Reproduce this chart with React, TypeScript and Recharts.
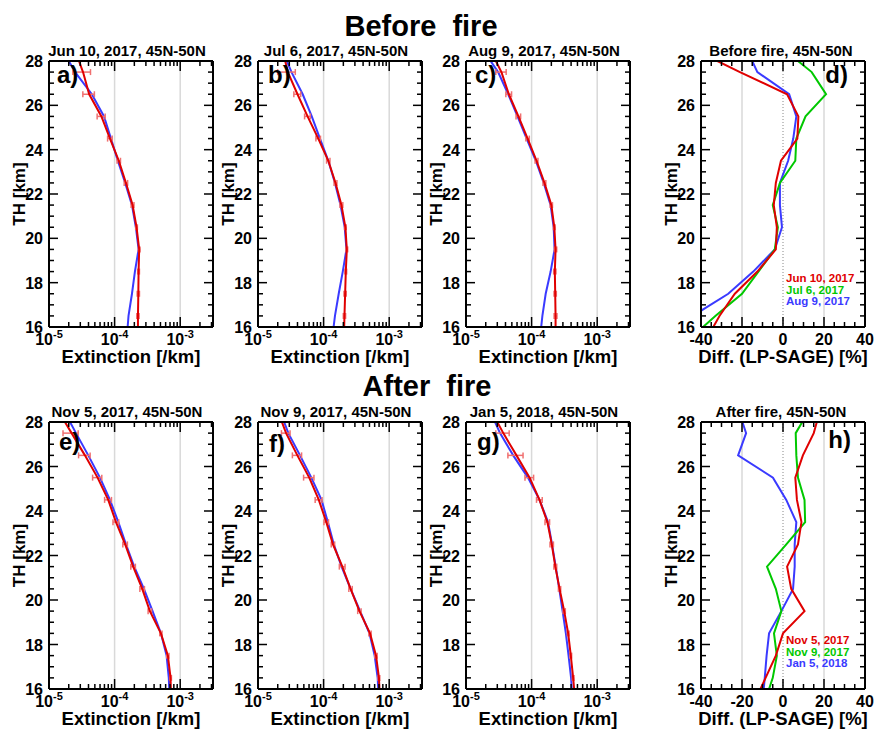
import React from 'react';
import { LineChart, Line, XAxis, YAxis, ReferenceLine, ErrorBar } from 'recharts';

const FONT = '"Liberation Sans", Arial, Helvetica, sans-serif';
const RED = '#e00000';
const BLUE = '#3a3aff';
const GREEN = '#00c800';

// altitude levels (km)
const altitudes = [16, 16.5, 17.5, 18.5, 19.5, 20.5, 21.5, 22.5, 23.5, 24.5, 25.5, 26.5, 27.5, 28];

// a) Jun 10, 2017
const lpJun10 = [2.27e-4, 2.27e-4, 2.3e-4, 2.32e-4, 2.37e-4, 2.16e-4, 1.88e-4, 1.49e-4, 1.16e-4, 8.5e-5, 6.3e-5, 4.1e-5, 3.3e-5, 2.86e-5];
const sageJun10 = [1.58e-4, 1.63e-4, 1.84e-4, 2.04e-4, 2.32e-4, 2.11e-4, 1.84e-4, 1.45e-4, 1.12e-4, 8.8e-5, 6.9e-5, 4.5e-5, 2.5e-5, 2.0e-5];
const errJun10 = [0, 0.04, 0.04, 0.03, 0.03, 0.03, 0.05, 0.06, 0.06, 0.08, 0.14, 0.2, 0.3, 0];

// b) Jul 6, 2017
const lpJul6 = [2.06e-4, 2.08e-4, 2.13e-4, 2.18e-4, 2.26e-4, 2.15e-4, 1.87e-4, 1.52e-4, 1.18e-4, 8.3e-5, 5.7e-5, 4.0e-5, 2.85e-5, 2.6e-5];
const sageJul6 = [1.42e-4, 1.49e-4, 1.7e-4, 1.96e-4, 2.23e-4, 2.1e-4, 1.81e-4, 1.49e-4, 1.18e-4, 8.8e-5, 6.6e-5, 4.8e-5, 3.24e-5, 2.75e-5];
const errJul6 = [0, 0.04, 0.04, 0.03, 0.03, 0.03, 0.05, 0.05, 0.06, 0.08, 0.1, 0.12, 0.3, 0];

// c) Aug 9, 2017
const lpAug9 = [2.32e-4, 2.32e-4, 2.29e-4, 2.26e-4, 2.32e-4, 2.22e-4, 2.0e-4, 1.57e-4, 1.19e-4, 8.7e-5, 6.3e-5, 4.5e-5, 3.47e-5, 2.85e-5];
const sageAug9 = [1.4e-4, 1.46e-4, 1.64e-4, 1.95e-4, 2.24e-4, 2.17e-4, 1.95e-4, 1.53e-4, 1.16e-4, 8.4e-5, 6.1e-5, 4.4e-5, 3.09e-5, 2.37e-5];
const errAug9 = [0, 0.05, 0.04, 0.04, 0.04, 0.03, 0.04, 0.05, 0.05, 0.06, 0.08, 0.1, 0.18, 0];

// e) Nov 5, 2017
const lpNov5 = [7.2e-4, 7.13e-4, 6.49e-4, 5.08e-4, 3.45e-4, 2.64e-4, 1.92e-4, 1.45e-4, 1.05e-4, 8.0e-5, 5.5e-5, 3.53e-5, 2.21e-5, 1.75e-5];
const sageNov5 = [6.8e-4, 6.7e-4, 6.2e-4, 5.08e-4, 3.79e-4, 2.8e-4, 1.99e-4, 1.49e-4, 1.14e-4, 8.5e-5, 5.98e-5, 3.97e-5, 2.58e-5, 2.09e-5];
const errNov5 = [0, 0.03, 0.04, 0.04, 0.06, 0.08, 0.08, 0.08, 0.1, 0.12, 0.16, 0.2, 0.26, 0];

// f) Nov 9, 2017
const lpNov9 = [7.1e-4, 6.98e-4, 6.3e-4, 5.1e-4, 3.52e-4, 2.58e-4, 1.93e-4, 1.39e-4, 1.1e-4, 8.45e-5, 6.04e-5, 3.98e-5, 2.68e-5, 2.31e-5];
const sageNov9 = [6.8e-4, 6.67e-4, 6.0e-4, 5.0e-4, 3.6e-4, 2.58e-4, 1.88e-4, 1.43e-4, 1.16e-4, 9.3e-5, 6.5e-5, 4.37e-5, 2.9e-5, 2.5e-5];
const errNov9 = [0, 0.03, 0.04, 0.04, 0.06, 0.06, 0.1, 0.06, 0.08, 0.12, 0.18, 0.16, 0.15, 0];

// g) Jan 5, 2018
const lpJan5 = [4.45e-4, 4.3e-4, 3.96e-4, 3.61e-4, 3.14e-4, 2.67e-4, 2.3e-4, 2.03e-4, 1.74e-4, 1.32e-4, 9.33e-5, 5.88e-5, 3.7e-5, 3.0e-5];
const sageJan5 = [4.1e-4, 4.0e-4, 3.66e-4, 3.33e-4, 2.97e-4, 2.64e-4, 2.33e-4, 2.05e-4, 1.78e-4, 1.32e-4, 8.8e-5, 5.24e-5, 3.3e-5, 2.77e-5];
const errJan5 = [0, 0.03, 0.03, 0.03, 0.04, 0.04, 0.05, 0.06, 0.08, 0.1, 0.15, 0.26, 0.23, 0];

// d) differences before fire (%)
const diffJun10 = [-34, -31, -23.5, -12.5, -3.5, -3, -4.5, -3.5, -1, 7, 7.5, 2, -21, -32];
const diffJul6 = [-39, -33, -20, -12, -4, -2.5, -5, -1.5, 6, 6.5, 11, 21, 14, 7.3];
const diffAug9 = [-53, -44, -26.7, -14.5, -4, -0.5, -1.5, -1.5, 2.5, 5, 6.5, 3, -12.5, -15];

// h) differences after fire (%)
const diffNov5 = [-11, -8.5, -3.5, 0, 10.5, 4, 2, 7.3, 9, 6.8, 6, 9.7, 15, 16.5];
const diffNov9 = [-6.8, -5, -3, -4.4, -0.8, -3.5, -7.8, 1.6, 10.8, 10.5, 7.3, 6.5, 6.2, 9.4];
const diffJan5 = [-9.4, -8.9, -8, -6.8, -0.8, 4.9, 5.7, 5.7, 6.5, 1.6, -4.9, -21.9, -18, -19.8];

// ticks
const altTicks = [16, 16.5, 17, 17.5, 18, 18.5, 19, 19.5, 20, 20.5, 21, 21.5, 22, 22.5, 23, 23.5, 24, 24.5, 25, 25.5, 26, 26.5, 27, 27.5, 28];
const altMajor = [16, 18, 20, 22, 24, 26, 28];
const extTicks = [1e-5, 2e-5, 3e-5, 4e-5, 5e-5, 6e-5, 7e-5, 8e-5, 9e-5, 1e-4, 2e-4, 3e-4, 4e-4, 5e-4, 6e-4, 7e-4, 8e-4, 9e-4, 1e-3, 2e-3, 3e-3];
const extMajor = [1e-5, 1e-4, 1e-3];
const extGrid = [1e-4, 1e-3];
const extDomain = [1e-5, 3.1623e-3];
const diffTicks = [-40, -35, -30, -25, -20, -15, -10, -5, 0, 5, 10, 15, 20, 25, 30, 35, 40];
const diffMajor = [-40, -20, 0, 20, 40];
const diffDomain = [-40, 40];

const PW = 164; // plot width
const LEFTW = 60;
const TOPM = 25;
const BOTH = 45;
const RIGHTM = 12;

const isMajor = (v: number, majors: number[]) => majors.some((m) => Math.abs(m - v) <= Math.abs(m) * 1e-6 + 1e-9);

const makeBottomTick = (majors: number[], log: boolean) => (p: any) => {
  const { x, y, payload } = p;
  const v = payload.value as number;
  const major = isMajor(v, majors);
  return (
    <g>
      <line x1={x} x2={x} y1={y} y2={y - (major ? 10 : 5)} stroke="#000" strokeWidth={1.5} />
      {major &&
        (log ? (
          <text x={x} y={y + 18} textAnchor="middle" fontFamily={FONT} fontWeight="bold" fontSize={16} fill="#000">
            10<tspan dy={-7} fontSize={11}>{String(Math.round(Math.log10(v)))}</tspan>
          </text>
        ) : (
          <text x={x} y={y + 18} textAnchor="middle" fontFamily={FONT} fontWeight="bold" fontSize={16} fill="#000">
            {String(v)}
          </text>
        ))}
    </g>
  );
};

const makeTopTick = (majors: number[]) => (p: any) => {
  const { x, y, payload } = p;
  const major = isMajor(payload.value, majors);
  return <line x1={x} x2={x} y1={y} y2={y + (major ? 10 : 5)} stroke="#000" strokeWidth={1.5} />;
};

const LeftTick = (p: any) => {
  const { x, y, payload } = p;
  const v = payload.value as number;
  const major = isMajor(v, altMajor);
  return (
    <g>
      <line x1={x} x2={x + (major ? 9 : 5)} y1={y} y2={y} stroke="#000" strokeWidth={1.5} />
      {major && (
        <text x={x - 6} y={y + 6} textAnchor="end" fontFamily={FONT} fontWeight="bold" fontSize={16} fill="#000">
          {String(v)}
        </text>
      )}
    </g>
  );
};

const RightTick = (p: any) => {
  const { x, y, payload } = p;
  const major = isMajor(payload.value, altMajor);
  return <line x1={x} x2={x - (major ? 9 : 5)} y1={y} y2={y} stroke="#000" strokeWidth={1.5} />;
};

const axisLine = { stroke: '#000', strokeWidth: 2 };

type PanelProps = {
  left: number;
  top: number;
  ph: number;
  kind: 'ext' | 'diff';
  rows: any[];
  series: { key: string; color: string; err?: string }[];
  xLabel: string;
};

function Panel({ left, top, ph, kind, rows, series, xLabel }: PanelProps) {
  const log = kind === 'ext';
  const domain = log ? extDomain : diffDomain;
  const ticks = log ? extTicks : diffTicks;
  const majors = log ? extMajor : diffMajor;
  const H = TOPM + ph + BOTH;
  const W = LEFTW + PW + RIGHTM;
  const xLabelContent = () => (
    <text x={LEFTW + PW / 2} y={TOPM + ph + 36} textAnchor="middle" fontFamily={FONT} fontWeight="bold" fontSize={18.5} fill="#000">
      {xLabel}
    </text>
  );
  const yLabelContent = () => (
    <text
      x={LEFTW - 30}
      y={TOPM + ph / 2}
      transform={`rotate(-90, ${LEFTW - 30}, ${TOPM + ph / 2})`}
      textAnchor="middle"
      dominantBaseline="central"
      fontFamily={FONT}
      fontWeight="bold"
      fontSize={17}
      fill="#000"
    >
      TH [km]
    </text>
  );
  return (
    <div style={{ position: 'absolute', left: left - LEFTW, top: top - TOPM }}>
      <LineChart width={W} height={H} data={rows} layout="vertical" margin={{ top: TOPM - 1, right: RIGHTM - 1, bottom: 0, left: 0 }}>
        <XAxis
          xAxisId="b"
          orientation="bottom"
          type="number"
          scale={log ? 'log' : 'linear'}
          domain={domain}
          allowDataOverflow
          ticks={ticks}
          interval={0}
          tickSize={0}
          tickMargin={0}
          tickLine={false}
          axisLine={axisLine}
          height={BOTH}
          tick={makeBottomTick(majors, log)}
          label={{ content: xLabelContent }}
        />
        <XAxis
          xAxisId="t"
          orientation="top"
          type="number"
          scale={log ? 'log' : 'linear'}
          domain={domain}
          allowDataOverflow
          ticks={ticks}
          interval={0}
          tickSize={0}
          tickMargin={0}
          tickLine={false}
          axisLine={axisLine}
          height={1}
          tick={makeTopTick(majors)}
        />
        <YAxis
          yAxisId="l"
          orientation="left"
          dataKey="alt"
          type="number"
          domain={[16, 28]}
          reversed
          allowDataOverflow
          ticks={altTicks}
          interval={0}
          tickSize={0}
          tickMargin={0}
          tickLine={false}
          axisLine={axisLine}
          width={LEFTW}
          tick={LeftTick}
          label={{ content: yLabelContent }}
        />
        <YAxis
          yAxisId="r"
          orientation="right"
          dataKey="alt"
          type="number"
          domain={[16, 28]}
          reversed
          allowDataOverflow
          ticks={altTicks}
          interval={0}
          tickSize={0}
          tickMargin={0}
          tickLine={false}
          axisLine={axisLine}
          width={1}
          tick={RightTick}
        />
        {log
          ? extGrid.map((g) => <ReferenceLine key={g} xAxisId="b" yAxisId="l" x={g} stroke="#d9d9d9" strokeWidth={1.5} />)
          : [
              <ReferenceLine key="m20" xAxisId="b" yAxisId="l" x={-20} stroke="#d9d9d9" strokeWidth={1.5} />,
              <ReferenceLine key="p20" xAxisId="b" yAxisId="l" x={20} stroke="#d9d9d9" strokeWidth={1.5} />,
              <ReferenceLine key="z" xAxisId="b" yAxisId="l" x={0} stroke="#888" strokeWidth={1} strokeDasharray="1 2" />,
            ]}
        {series.map((s) => (
          <Line
            key={s.key}
            xAxisId="b"
            yAxisId="l"
            dataKey={s.key}
            stroke={s.color}
            strokeWidth={2}
            dot={false}
            isAnimationActive={false}
            type="linear"
          >
            {s.err ? <ErrorBar dataKey={s.err} direction="x" width={3} stroke="#f07070" strokeWidth={1.5} /> : null}
          </Line>
        ))}
      </LineChart>
    </div>
  );
}

const extRows = (lp: number[], sage: number[], err: number[]) =>
  altitudes.map((alt, i) => ({
    alt,
    lp: lp[i],
    sage: sage[i],
    err: err[i] ? [lp[i] * err[i], lp[i] * err[i]] : null,
  }));

const diffRows = (s1: number[], s2: number[], s3: number[]) =>
  altitudes.map((alt, i) => ({ alt, s1: s1[i], s2: s2[i], s3: s3[i] }));

const extSeries = [
  { key: 'sage', color: BLUE },
  { key: 'lp', color: RED, err: 'err' },
];
const diffSeries = [
  { key: 's3', color: BLUE },
  { key: 's2', color: GREEN },
  { key: 's1', color: RED },
];

const TOP1 = 61;
const TOP2 = 422;
const PH1 = 266;
const PH2 = 267;
const lefts = [49, 258, 466, 701];

const extTitles1 = ['Jun 10, 2017, 45N-50N', 'Jul 6, 2017, 45N-50N', 'Aug 9, 2017, 45N-50N'];
const extTitles2 = ['Nov 5, 2017, 45N-50N', 'Nov 9, 2017, 45N-50N', 'Jan 5, 2018, 45N-50N'];
const diffTitles = ['Before fire, 45N-50N', 'After fire, 45N-50N'];
const legend1 = ['Jun 10, 2017', 'Jul 6, 2017', 'Aug 9, 2017'];
const legend2 = ['Nov 5, 2017', 'Nov 9, 2017', 'Jan 5, 2018'];
const legendColors = [RED, GREEN, BLUE];

export default function App() {
  const txt = { fontFamily: FONT, fontWeight: 'bold' as const, fill: '#000' };
  return (
    <div style={{ position: 'absolute', left: 0, top: 0, width: 875, height: 730, background: '#fff', overflow: 'hidden' }}>
      <Panel left={lefts[0]} top={TOP1} ph={PH1} kind="ext" rows={extRows(lpJun10, sageJun10, errJun10)} series={extSeries} xLabel="Extinction [/km]" />
      <Panel left={lefts[1]} top={TOP1} ph={PH1} kind="ext" rows={extRows(lpJul6, sageJul6, errJul6)} series={extSeries} xLabel="Extinction [/km]" />
      <Panel left={lefts[2]} top={TOP1} ph={PH1} kind="ext" rows={extRows(lpAug9, sageAug9, errAug9)} series={extSeries} xLabel="Extinction [/km]" />
      <Panel left={lefts[3]} top={TOP1} ph={PH1} kind="diff" rows={diffRows(diffJun10, diffJul6, diffAug9)} series={diffSeries} xLabel="Diff. (LP-SAGE) [%]" />
      <Panel left={lefts[0]} top={TOP2} ph={PH2} kind="ext" rows={extRows(lpNov5, sageNov5, errNov5)} series={extSeries} xLabel="Extinction [/km]" />
      <Panel left={lefts[1]} top={TOP2} ph={PH2} kind="ext" rows={extRows(lpNov9, sageNov9, errNov9)} series={extSeries} xLabel="Extinction [/km]" />
      <Panel left={lefts[2]} top={TOP2} ph={PH2} kind="ext" rows={extRows(lpJan5, sageJan5, errJan5)} series={extSeries} xLabel="Extinction [/km]" />
      <Panel left={lefts[3]} top={TOP2} ph={PH2} kind="diff" rows={diffRows(diffNov5, diffNov9, diffJan5)} series={diffSeries} xLabel="Diff. (LP-SAGE) [%]" />

      <svg width={875} height={730} style={{ position: 'absolute', left: 0, top: 0, pointerEvents: 'none' }}>
        <text x={421} y={36} textAnchor="middle" fontSize={29} style={{ whiteSpace: 'pre' }} {...txt}>Before  fire</text>
        <text x={427} y={396} textAnchor="middle" fontSize={29} style={{ whiteSpace: 'pre' }} {...txt}>After  fire</text>

        {extTitles1.map((t, i) => (
          <text key={t} x={lefts[i] + PW / 2 - 4} y={TOP1 - 5} textAnchor="middle" fontSize={15} {...txt}>{t}</text>
        ))}
        {extTitles2.map((t, i) => (
          <text key={t} x={lefts[i] + PW / 2 - 4} y={TOP2 - 5} textAnchor="middle" fontSize={15} {...txt}>{t}</text>
        ))}
        <text x={lefts[3] + PW / 2 - 2} y={TOP1 - 5} textAnchor="middle" fontSize={15} {...txt}>{diffTitles[0]}</text>
        <text x={lefts[3] + PW / 2 - 2} y={TOP2 - 5} textAnchor="middle" fontSize={15} {...txt}>{diffTitles[1]}</text>

        <text x={57} y={83} fontSize={24} {...txt}>a)</text>
        <text x={268} y={83} fontSize={24} {...txt}>b)</text>
        <text x={475} y={83} fontSize={24} {...txt}>c)</text>
        <text x={848} y={83} textAnchor="end" fontSize={24} {...txt}>d)</text>
        <text x={59} y={450} fontSize={24} {...txt}>e)</text>
        <text x={269} y={452} fontSize={24} {...txt}>f)</text>
        <text x={477} y={450} fontSize={24} {...txt}>g)</text>
        <text x={851} y={448} textAnchor="end" fontSize={24} {...txt}>h)</text>

        {legend1.map((t, i) => (
          <text key={t} x={786} y={282 + i * 11.5} fontSize={11.5} fontFamily={FONT} fontWeight="bold" fill={legendColors[i]}>{t}</text>
        ))}
        {legend2.map((t, i) => (
          <text key={t} x={786} y={644 + i * 11.5} fontSize={11.5} fontFamily={FONT} fontWeight="bold" fill={legendColors[i]}>{t}</text>
        ))}
      </svg>
    </div>
  );
}
